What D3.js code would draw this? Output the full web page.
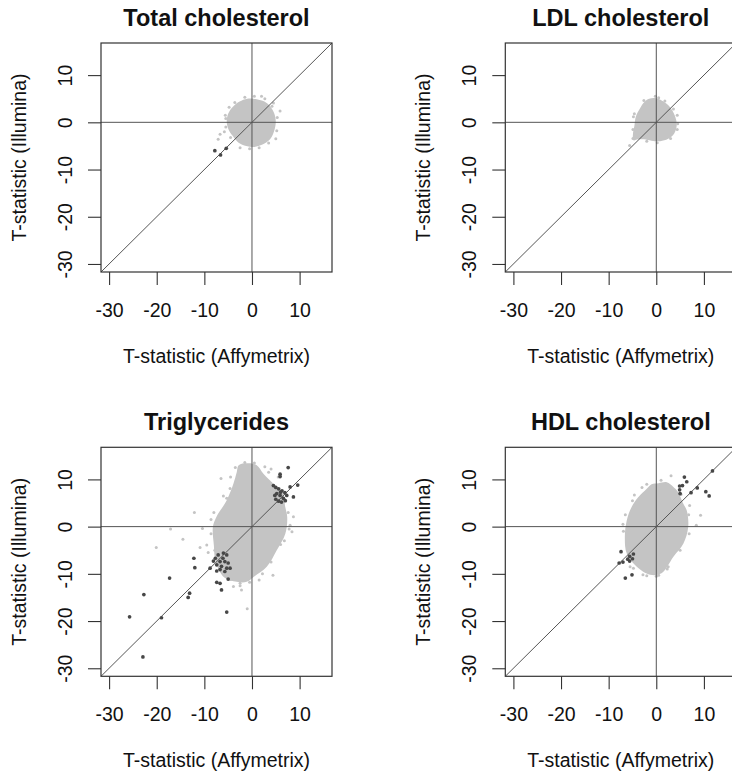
<!DOCTYPE html>
<html><head><meta charset="utf-8">
<script src="https://cdn.jsdelivr.net/npm/d3@7"></script>
<style>body{margin:0;background:#fff}svg{display:block}text{font-family:"Liberation Sans",Arial,Helvetica,sans-serif;fill:#111}</style>
</head><body><svg id="c" width="732" height="776"></svg>
<script>
const titles = ["Total cholesterol","LDL cholesterol","Triglycerides","HDL cholesterol"];
const xLabel = "T-statistic (Affymetrix)";
const yLabel = "T-statistic (Illumina)";
const tickValues = [-30,-20,-10,0,10];
const tickLabels = ["-30","-20","-10","0","10"];
const domain = [-31.7, 16.8];

// dense cloud outlines (data units)
const cloudTC = [[-1,5.0],[1,4.9],[2.6,4.4],[3.8,3.4],[4.7,1.8],[5.0,0],[4.6,-2.0],[3.8,-3.6],[2.2,-4.7],[0.5,-5.2],[-1.2,-5.0],[-2.8,-4.3],[-3.8,-3.2],[-4.8,-1.8],[-5.3,0],[-5.0,1.8],[-4.0,3.3],[-2.6,4.4]];
const cloudLDL = [[-1.5,5.0],[0,5.1],[1.5,4.4],[2.9,3.2],[3.9,1.4],[4.3,-0.5],[3.8,-2.3],[2.5,-3.5],[0.8,-4.0],[-1.0,-3.9],[-2.6,-3.6],[-3.8,-3.6],[-4.8,-3.8],[-4.9,-2.5],[-4.6,-0.8],[-4.3,1.2],[-3.4,3.0],[-2.5,4.3]];
const cloudTG = [[-2.8,13.0],[-0.8,13.4],[1.0,13.0],[2.4,11.2],[4.5,9.1],[6.4,7.2],[7.0,4.1],[7.4,2.0],[7.0,-1.5],[5.2,-5.0],[3.1,-8.5],[0.4,-10.6],[-1.1,-11.7],[-3.2,-11.7],[-5.8,-10.8],[-7.6,-7.5],[-8.0,-4.0],[-8.2,0],[-7.5,2.0],[-5.3,5.6],[-3.9,9.1],[-3.2,11.5]];
const cloudHDL = [[-1.0,9.0],[0.5,9.2],[2.2,9.4],[3.6,8.4],[4.6,7.3],[5.6,5.0],[6.4,3.4],[6.7,-0.1],[5.7,-3.6],[3.6,-6.4],[1.1,-9.9],[-1.3,-10.2],[-4.1,-8.5],[-6.2,-5.7],[-6.6,-2.2],[-6.2,1.3],[-5.2,4.1],[-3.8,6.2],[-2.0,8.0]];

// scattered light-grey points around / outside the cloud
const lightTC = [[-7.1,-3.6],[-6.7,-2.5],[-5.8,-2.0],[5.9,2.4],[5.2,-1.8],[2.0,5.5],[2.7,5.0],[4.5,4.1],[-4.8,3.2],[-5.5,0.8],[5.0,-3.5],[-2.5,-5.4],[1.5,-5.4],[-5.6,1.5],[-5.5,-1.0],[-4.5,-3.2],[3.5,-4.4],[5.3,1.0],[4.2,3.4],[-3.6,4.2],[0.5,5.5],[-1.5,5.3],[-0.5,-5.6]];
const lightLDL = [[-5.6,-4.9],[-4.9,-3.4],[0.5,5.2],[-0.2,5.5],[4.4,1.5],[4.4,-1.5],[-4.8,1.2],[-4.9,-1.5],[-4.6,1.8],[-2.6,4.6],[1.8,4.5],[3.6,2.8],[4.5,-0.3],[3.0,-3.4],[0.2,-4.3],[-2.0,-4.0]];
const lightTG = [[-12.1,3.0],[-17.1,-0.5],[-20.1,-4.4],[-14.5,-2.7],[-10.4,-0.4],[-10.9,-4.4],[-9.5,-3.9],[-1.0,-17.4],[-2.2,-13.4],[4.4,-10.3],[-4.6,8.1],[-5.3,6.0],[0.6,12.7],[2.7,12.7],[8.7,2.1],[8.4,-1.1],[8.0,0.3],[-3.9,-12.7],[-9.2,-5.5],[-8.6,1.5],[-6.5,10.2],[4.0,12.2],[5.5,10.5],[-2.5,-12.5],[1.5,-11.3],[6.8,-3.0],[-8.6,-1.5],[-8.0,3.0],[-6.0,6.5],[-4.5,10.5],[-3.5,12.5],[-1.5,13.6],[0.5,13.5],[3.5,11.5],[7.6,3.0],[7.8,-0.5],[6.0,-3.8],[4.0,-7.5],[2.2,-10.0],[-0.5,-11.8],[-2.5,-12.0],[-4.5,-11.2],[-7.8,-5.0]];
const lightHDL = [[9.3,2.4],[8.4,0.3],[-4.6,6.7],[3.1,10.8],[0,-10.5],[-2.8,-10.2],[2.3,-9.0],[-5.5,-8.5],[7.0,4.5],[-7.0,0.5],[-3.0,8.3],[-6.9,-1.0],[-6.5,2.5],[-5.0,5.5],[-2.0,9.0],[1.0,9.8],[5.2,6.8],[6.8,2.5],[6.9,-1.5],[5.0,-5.0],[2.5,-8.5],[0.5,-10.3],[-2.0,-10.4],[-4.8,-8.8]];

// highlighted dark points
const darkTC = [[-7.8,-6.0],[-6.6,-6.9],[-5.4,-5.5]];
const darkLDL = [];
const darkTG = [[-12.2,-6.7],[-12.0,-8.7],[-8.8,-8.8],[-17.3,-10.9],[-22.7,-14.4],[-13.1,-14.1],[-13.4,-15.0],[-25.7,-19.1],[-19.0,-19.3],[-22.9,-27.6],[-5.3,-18.1],[-6.4,-13.4],[-7.4,-11.8],[-6.7,-12.0],[-5.0,-11.1],[-7.4,-9.4],[-7.1,-6.0],[-6.1,-6.7],[-5.7,-7.4],[-5.0,-7.7],[-6.7,-7.4],[-7.4,-8.1],[-6.4,-8.4],[-5.3,-8.8],[-6.7,-9.1],[-5.7,-9.5],[-4.6,-8.8],[-7.7,-6.7],[-8.1,-7.3],[-5.3,-6.0],[-6.0,-5.6],[7.6,12.5],[5.9,11.1],[5.9,10.6],[8.7,6.3],[9.6,8.8],[8.0,8.4],[4.5,8.7],[5.0,8.3],[5.6,8.0],[6.3,7.6],[6.9,7.2],[7.3,6.6],[5.2,7.0],[5.9,6.6],[6.6,6.0],[5.0,5.8],[5.6,5.4],[6.2,5.2],[4.8,6.6],[7.0,5.5],[6.0,7.3]];
const darkHDL = [[11.8,11.8],[8.6,8.2],[7.3,7.2],[10.4,7.4],[11.1,6.5],[5.9,10.5],[6.4,9.5],[4.9,8.6],[4.9,7.8],[5.0,7.0],[5.5,8.7],[-7.4,-5.3],[-7.8,-7.7],[-5.6,-6.3],[-5.6,-7.3],[-5.0,-6.8],[-6.0,-6.9],[-6.5,-10.9],[-5.1,-10.2],[-7.0,-7.5],[-4.8,-5.8]];

const clouds = [cloudTC, cloudLDL, cloudTG, cloudHDL];
const lights = [lightTC, lightLDL, lightTG, lightHDL];
const darks = [darkTC, darkLDL, darkTG, darkHDL];

const svg = d3.select("#c");
const boxW = 231, boxH = 229, stepX = 404.3, stepY = 404.3, left0 = 101, top0 = 43;
const lineCol = "#555", lightCol = "#c4c4c4", darkCol = "#474747";
const fmt = d => tickLabels[tickValues.indexOf(d)];

const defs = svg.append("defs");
defs.append("filter").attr("id","soft").append("feGaussianBlur").attr("stdDeviation",0.7);

titles.forEach((t, i) => {
  const col = i % 2, row = Math.floor(i / 2);
  const L = left0 + col * stepX, T = top0 + row * stepY;
  const x = d3.scaleLinear().domain(domain).range([L, L + boxW]);
  const y = d3.scaleLinear().domain(domain).range([T + boxH, T]);
  const cid = "clip" + i;
  defs.append("clipPath").attr("id", cid).append("rect").attr("x", L).attr("y", T).attr("width", boxW).attr("height", boxH);
  const g = svg.append("g").attr("clip-path", `url(#${cid})`);

  g.append("path").datum(clouds[i])
    .attr("d", d3.line().x(d => x(d[0])).y(d => y(d[1])).curve(d3.curveCatmullRomClosed))
    .attr("fill", lightCol).attr("filter", "url(#soft)");
  g.selectAll(".lp").data(lights[i]).join("circle")
    .attr("cx", d => x(d[0])).attr("cy", d => y(d[1])).attr("r", 1.5).attr("fill", lightCol);

  // reference lines: h=0, v=0, y=x
  g.append("line").attr("x1", x(domain[0])).attr("x2", x(domain[1])).attr("y1", y(0)).attr("y2", y(0)).attr("stroke", lineCol).attr("stroke-width", 1);
  g.append("line").attr("x1", x(0)).attr("x2", x(0)).attr("y1", y(domain[0])).attr("y2", y(domain[1])).attr("stroke", lineCol).attr("stroke-width", 1);
  g.append("line").attr("x1", x(domain[0])).attr("x2", x(domain[1])).attr("y1", y(domain[0])).attr("y2", y(domain[1])).attr("stroke", lineCol).attr("stroke-width", 1);

  g.selectAll(".dp").data(darks[i]).join("circle")
    .attr("cx", d => x(d[0])).attr("cy", d => y(d[1])).attr("r", 1.85).attr("fill", darkCol);

  svg.append("rect").attr("x", L).attr("y", T).attr("width", boxW).attr("height", boxH)
    .attr("fill", "none").attr("stroke", "#333").attr("stroke-width", 1.2);

  // axes
  const xa = svg.append("g").attr("transform", `translate(0,${T + boxH})`)
    .call(d3.axisBottom(x).tickValues(tickValues).tickSize(13).tickFormat(fmt));
  xa.select(".domain").remove();
  xa.selectAll("line").attr("stroke", "#333").attr("stroke-width", 1.1);
  xa.selectAll("text").attr("font-size", "19.5px").attr("fill", "#111").attr("dy", null).attr("y", 44.7).style("font-family", '"Liberation Sans",Arial,sans-serif');

  const ya = svg.append("g").attr("transform", `translate(${L},0)`)
    .call(d3.axisLeft(y).tickValues(tickValues).tickSize(13).tickFormat(fmt));
  ya.select(".domain").remove();
  ya.selectAll("line").attr("stroke", "#333").attr("stroke-width", 1.1);
  ya.selectAll("text").attr("x", null).attr("dy", null).attr("text-anchor", "middle")
    .attr("transform", "translate(-29,0) rotate(-90)")
    .attr("font-size", "19.5px").attr("fill", "#111").style("font-family", '"Liberation Sans",Arial,sans-serif');

  svg.append("text").attr("x", L + boxW / 2).attr("y", T - 17).attr("text-anchor", "middle")
    .attr("font-size", "23.5px").attr("font-weight", "bold").text(t);
  svg.append("text").attr("x", L + boxW / 2).attr("y", T + boxH + 91).attr("text-anchor", "middle")
    .attr("font-size", "19.5px").text(xLabel);
  svg.append("text").attr("transform", `translate(${L - 75},${T + boxH / 2}) rotate(-90)`).attr("text-anchor", "middle")
    .attr("font-size", "19.5px").text(yLabel);
});
</script>
</body></html>
